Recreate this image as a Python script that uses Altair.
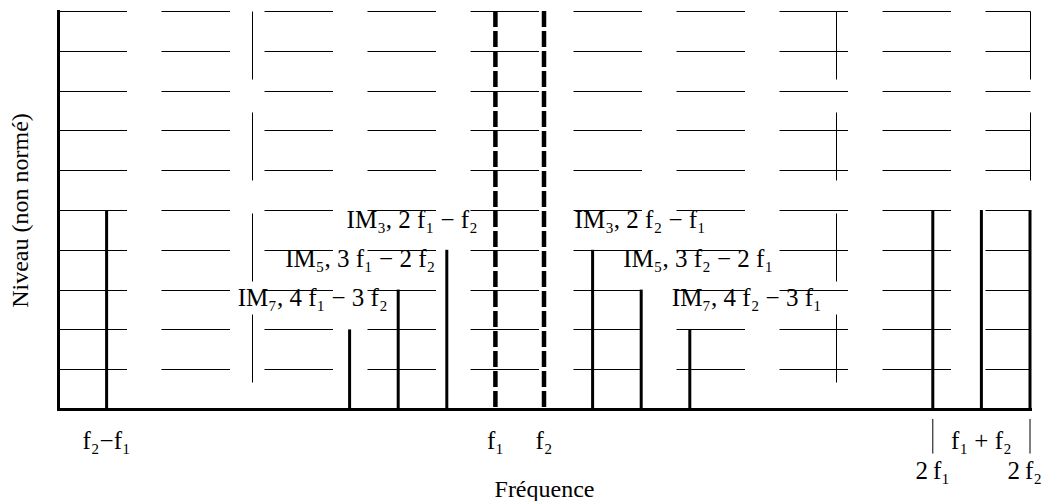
import altair as alt
import pandas as pd

# Spectral lines: schematic position on the frequency axis and height (level)
line_pos = [1, 6, 7, 8, 9, 10, 11, 12, 13, 18, 19, 20]
line_level = [5, 2, 3, 4, 10, 10, 4, 3, 2, 5, 5, 5]
line_kind = ["solid", "solid", "solid", "solid", "dashed", "dashed",
             "solid", "solid", "solid", "solid", "solid", "solid"]

# Intermodulation annotations
lower_labels = ["IM₃, 2 f₁ − f₂", "IM₅, 3 f₁ − 2 f₂", "IM₇, 4 f₁ − 3 f₂"]
lower_pos = [8, 7, 6]
upper_labels = ["IM₃, 2 f₂ − f₁", "IM₅, 3 f₂ − 2 f₁", "IM₇, 4 f₂ − 3 f₁"]
upper_pos = [11, 12, 13]
label_level = [4.74, 3.76, 2.78]

# Frequency labels under the axis
tick_text = ["f₂−f₁", "f₁", "f₂", "f₁ + f₂", "2\u2009f₁"]
tick_pos = [1, 9, 10, 19, 18]
tick_level = [-0.8, -0.8, -0.8, -0.8, -1.56]
edge_text = ["2\u2009f₂"]
edge_pos = [20]
edge_level = [-1.56]

# Leader strokes for 2f1 / 2f2
leader_pos = [18, 20]
leader_top = [-0.25, -0.25]
leader_bottom = [-1.12, -1.12]

grid_x = [4, 16, 20]
grid_y = list(range(0, 11))

FONT = "Liberation Serif"
FS = 25
lower_dx = [31, 37, 38]

df_lines = pd.DataFrame({"x": line_pos, "y": line_level, "kind": line_kind})
df_upper = pd.DataFrame({"x": upper_pos, "y": label_level, "t": upper_labels})
df_ticks = pd.DataFrame({"x": tick_pos, "y": tick_level, "t": tick_text})
df_edge = pd.DataFrame({"x": edge_pos, "y": edge_level, "t": edge_text})
df_lead = pd.DataFrame({"x": leader_pos, "y": leader_top, "y2": leader_bottom})

xscale = alt.Scale(domain=[0, 20], nice=False, zero=False)
yscale = alt.Scale(domain=[0, 10], nice=False, zero=False)

x_axis = alt.Axis(values=grid_x, grid=True, gridColor="black", gridWidth=1,
                  gridDash=[68, 33], gridOpacity=1, ticks=False, labels=False,
                  domainColor="black", domainWidth=3, domainCap="square",
                  title="Fréquence", titleFont=FONT, titleFontSize=24,
                  titleFontWeight="normal", titleColor="black", titlePadding=68)
y_axis = alt.Axis(values=grid_y, grid=True, gridColor="black", gridWidth=1,
                  gridDash=[68.5, 34.5], gridOpacity=1, ticks=False, labels=False,
                  domainColor="black", domainWidth=3, domainCap="square",
                  title="Niveau (non normé)", titleFont=FONT, titleFontSize=24,
                  titleFontWeight="normal", titleColor="black", titlePadding=26)


def X(field="x:Q"):
    return alt.X(field, scale=xscale, axis=x_axis, title="Fréquence")


def Y(field="y:Q"):
    return alt.Y(field, scale=yscale, axis=y_axis, title="Niveau (non normé)")


solid = alt.Chart(df_lines).transform_filter("datum.kind == 'solid'").mark_rule(
    color="black", strokeWidth=3).encode(x=X(), y=Y(), y2=alt.datum(0))

dashed = alt.Chart(df_lines).transform_filter("datum.kind == 'dashed'").mark_rule(
    color="black", strokeWidth=4.5, strokeDash=[16, 4]).encode(
    x=X(), y=Y(), y2=alt.datum(0))

lower_layers = []
for lab, pos, lev, dx in zip(lower_labels, lower_pos, label_level, lower_dx):
    d = pd.DataFrame({"x": [pos], "y": [lev], "t": [lab]})
    lower_layers.append(alt.Chart(d).mark_text(
        align="right", baseline="middle", dx=dx, font=FONT, fontSize=FS,
        color="black").encode(x=X(), y=Y(), text="t:N"))

upper = alt.Chart(df_upper).mark_text(
    align="left", baseline="middle", dx=-18, font=FONT, fontSize=FS, color="black").encode(
    x=X(), y=Y(), text="t:N")

ticks = alt.Chart(df_ticks).mark_text(
    align="center", baseline="middle", font=FONT, fontSize=FS, color="black").encode(
    x=X(), y=Y(), text="t:N")

edge = alt.Chart(df_edge).mark_text(
    align="right", baseline="middle", dx=12, font=FONT, fontSize=FS, color="black").encode(
    x=X(), y=Y(), text="t:N")

leaders = alt.Chart(df_lead).mark_rule(color="black", strokeWidth=1).encode(
    x=X(), y=Y(), y2="y2:Q")

chart = alt.layer(solid, dashed, *lower_layers, upper, ticks, edge, leaders).properties(
    width=972, height=398,
    padding={"left": 0, "top": 0, "right": 0, "bottom": 0},
).configure_view(stroke=None)

chart.save("out.html", embed_options={"renderer": "svg", "actions": False})
